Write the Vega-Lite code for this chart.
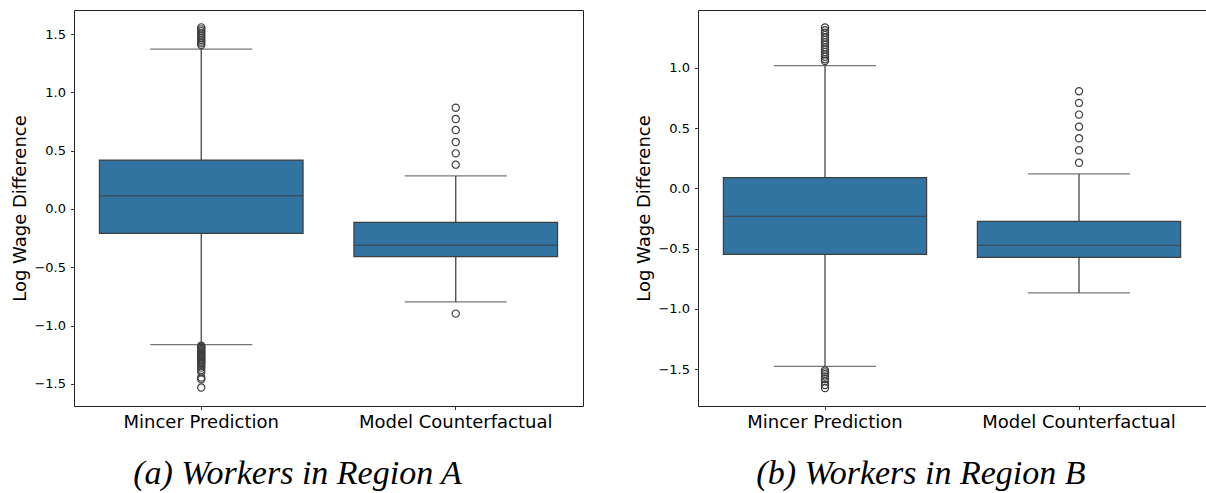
{
  "$schema": "https://vega.github.io/schema/vega-lite/v6.json",
  "padding": {"left": 11, "top": 9, "right": 0, "bottom": 0},
  "spacing": 51,
  "background": "white",
  "config": {
    "view": {"stroke": "#222222", "strokeWidth": 1},
    "axis": {
      "grid": false,
      "domain": false,
      "tickSize": 3.5,
      "tickWidth": 0.8,
      "tickColor": "#000000",
      "labelColor": "#000000",
      "titleColor": "#000000",
      "labelFont": "DejaVu Sans",
      "titleFont": "DejaVu Sans",
      "titleFontWeight": "normal",
      "labelLimit": 0
    },
    "axisY": {"labelFontSize": 13, "titleFontSize": 18, "labelPadding": 5, "titlePadding": 4},
    "axisX": {"labelFontSize": 18, "labelPadding": 3.5, "labelAngle": 0},
    "title": {"font": "Liberation Serif", "fontStyle": "italic", "fontWeight": "normal", "fontSize": 34, "color": "#000000", "orient": "bottom", "anchor": "middle", "frame": "bounds", "offset": 26}
  },
  "datasets": {
    "stats": [
      {"region": "A", "group": "Mincer Prediction", "lower": -1.163, "q1": -0.21, "median": 0.114, "q3": 0.42, "upper": 1.371},
      {"region": "A", "group": "Model Counterfactual", "lower": -0.797, "q1": -0.408, "median": -0.311, "q3": -0.114, "upper": 0.283},
      {"region": "B", "group": "Mincer Prediction", "lower": -1.475, "q1": -0.548, "median": -0.232, "q3": 0.088, "upper": 1.017},
      {"region": "B", "group": "Model Counterfactual", "lower": -0.866, "q1": -0.573, "median": -0.473, "q3": -0.274, "upper": 0.119}
    ],
    "outliers": [
      {"region": "A", "group": "Mincer Prediction", "value": 1.557},
      {"region": "A", "group": "Mincer Prediction", "value": 1.54},
      {"region": "A", "group": "Mincer Prediction", "value": 1.525},
      {"region": "A", "group": "Mincer Prediction", "value": 1.51},
      {"region": "A", "group": "Mincer Prediction", "value": 1.495},
      {"region": "A", "group": "Mincer Prediction", "value": 1.48},
      {"region": "A", "group": "Mincer Prediction", "value": 1.465},
      {"region": "A", "group": "Mincer Prediction", "value": 1.45},
      {"region": "A", "group": "Mincer Prediction", "value": 1.435},
      {"region": "A", "group": "Mincer Prediction", "value": 1.42},
      {"region": "A", "group": "Mincer Prediction", "value": 1.405},
      {"region": "A", "group": "Mincer Prediction", "value": -1.172},
      {"region": "A", "group": "Mincer Prediction", "value": -1.18},
      {"region": "A", "group": "Mincer Prediction", "value": -1.19},
      {"region": "A", "group": "Mincer Prediction", "value": -1.2},
      {"region": "A", "group": "Mincer Prediction", "value": -1.21},
      {"region": "A", "group": "Mincer Prediction", "value": -1.22},
      {"region": "A", "group": "Mincer Prediction", "value": -1.23},
      {"region": "A", "group": "Mincer Prediction", "value": -1.24},
      {"region": "A", "group": "Mincer Prediction", "value": -1.25},
      {"region": "A", "group": "Mincer Prediction", "value": -1.26},
      {"region": "A", "group": "Mincer Prediction", "value": -1.27},
      {"region": "A", "group": "Mincer Prediction", "value": -1.28},
      {"region": "A", "group": "Mincer Prediction", "value": -1.29},
      {"region": "A", "group": "Mincer Prediction", "value": -1.3},
      {"region": "A", "group": "Mincer Prediction", "value": -1.31},
      {"region": "A", "group": "Mincer Prediction", "value": -1.32},
      {"region": "A", "group": "Mincer Prediction", "value": -1.33},
      {"region": "A", "group": "Mincer Prediction", "value": -1.345},
      {"region": "A", "group": "Mincer Prediction", "value": -1.36},
      {"region": "A", "group": "Mincer Prediction", "value": -1.38},
      {"region": "A", "group": "Mincer Prediction", "value": -1.4},
      {"region": "A", "group": "Mincer Prediction", "value": -1.445},
      {"region": "A", "group": "Mincer Prediction", "value": -1.46},
      {"region": "A", "group": "Mincer Prediction", "value": -1.531},
      {"region": "A", "group": "Model Counterfactual", "value": 0.868},
      {"region": "A", "group": "Model Counterfactual", "value": 0.771},
      {"region": "A", "group": "Model Counterfactual", "value": 0.677},
      {"region": "A", "group": "Model Counterfactual", "value": 0.574},
      {"region": "A", "group": "Model Counterfactual", "value": 0.477},
      {"region": "A", "group": "Model Counterfactual", "value": 0.38},
      {"region": "A", "group": "Model Counterfactual", "value": -0.897},
      {"region": "B", "group": "Mincer Prediction", "value": 1.333},
      {"region": "B", "group": "Mincer Prediction", "value": 1.31},
      {"region": "B", "group": "Mincer Prediction", "value": 1.29},
      {"region": "B", "group": "Mincer Prediction", "value": 1.27},
      {"region": "B", "group": "Mincer Prediction", "value": 1.25},
      {"region": "B", "group": "Mincer Prediction", "value": 1.23},
      {"region": "B", "group": "Mincer Prediction", "value": 1.21},
      {"region": "B", "group": "Mincer Prediction", "value": 1.19},
      {"region": "B", "group": "Mincer Prediction", "value": 1.17},
      {"region": "B", "group": "Mincer Prediction", "value": 1.15},
      {"region": "B", "group": "Mincer Prediction", "value": 1.13},
      {"region": "B", "group": "Mincer Prediction", "value": 1.11},
      {"region": "B", "group": "Mincer Prediction", "value": 1.09},
      {"region": "B", "group": "Mincer Prediction", "value": 1.07},
      {"region": "B", "group": "Mincer Prediction", "value": 1.055},
      {"region": "B", "group": "Mincer Prediction", "value": -1.51},
      {"region": "B", "group": "Mincer Prediction", "value": -1.525},
      {"region": "B", "group": "Mincer Prediction", "value": -1.54},
      {"region": "B", "group": "Mincer Prediction", "value": -1.56},
      {"region": "B", "group": "Mincer Prediction", "value": -1.58},
      {"region": "B", "group": "Mincer Prediction", "value": -1.6},
      {"region": "B", "group": "Mincer Prediction", "value": -1.63},
      {"region": "B", "group": "Mincer Prediction", "value": -1.655},
      {"region": "B", "group": "Model Counterfactual", "value": 0.805},
      {"region": "B", "group": "Model Counterfactual", "value": 0.708},
      {"region": "B", "group": "Model Counterfactual", "value": 0.611},
      {"region": "B", "group": "Model Counterfactual", "value": 0.511},
      {"region": "B", "group": "Model Counterfactual", "value": 0.415},
      {"region": "B", "group": "Model Counterfactual", "value": 0.315},
      {"region": "B", "group": "Model Counterfactual", "value": 0.212}
    ]
  },
  "hconcat": [
    {
      "width": 509,
      "height": 396,
      "title": {"text": "(a) Workers in Region A"},
      "encoding": {
        "x": {"field": "group", "type": "nominal", "sort": ["Mincer Prediction", "Model Counterfactual"], "scale": {"paddingInner": 0, "paddingOuter": 0}, "axis": {"title": null}}
      },
      "layer": [
        {
          "data": {"name": "stats"},
          "transform": [{"filter": "datum.region === 'A'"}],
          "mark": {"type": "rule", "color": "#3f3f3f", "strokeWidth": 1.25},
          "encoding": {
            "y": {"field": "lower", "type": "quantitative", "scale": {"domain": [-1.689, 1.706], "nice": false, "zero": false}, "axis": {"title": "Log Wage Difference", "values": [-1.5, -1, -0.5, 0, 0.5, 1, 1.5], "format": ".1f"}},
            "y2": {"field": "upper"}
          }
        },
        {
          "data": {"name": "stats"},
          "transform": [{"filter": "datum.region === 'A'"}],
          "mark": {"type": "tick", "color": "#3f3f3f", "size": 102, "thickness": 1.25},
          "encoding": {"y": {"field": "lower", "type": "quantitative"}}
        },
        {
          "data": {"name": "stats"},
          "transform": [{"filter": "datum.region === 'A'"}],
          "mark": {"type": "tick", "color": "#3f3f3f", "size": 102, "thickness": 1.25},
          "encoding": {"y": {"field": "upper", "type": "quantitative"}}
        },
        {
          "data": {"name": "stats"},
          "transform": [{"filter": "datum.region === 'A'"}],
          "mark": {"type": "bar", "fill": "#3274a1", "stroke": "#3f3f3f", "strokeWidth": 1.25, "width": {"band": 0.8}},
          "encoding": {"y": {"field": "q1", "type": "quantitative"}, "y2": {"field": "q3"}}
        },
        {
          "data": {"name": "stats"},
          "transform": [{"filter": "datum.region === 'A'"}],
          "mark": {"type": "tick", "color": "#3f3f3f", "size": 204, "thickness": 1.4},
          "encoding": {"y": {"field": "median", "type": "quantitative"}}
        },
        {
          "data": {"name": "outliers"},
          "transform": [{"filter": "datum.region === 'A'"}],
          "mark": {"type": "point", "shape": "circle", "filled": false, "stroke": "#3f3f3f", "strokeWidth": 1.2, "size": 52, "opacity": 1},
          "encoding": {"y": {"field": "value", "type": "quantitative"}}
        }
      ]
    },
    {
      "width": 508,
      "height": 396,
      "title": {"text": "(b) Workers in Region B"},
      "encoding": {
        "x": {"field": "group", "type": "nominal", "sort": ["Mincer Prediction", "Model Counterfactual"], "scale": {"paddingInner": 0, "paddingOuter": 0}, "axis": {"title": null}}
      },
      "layer": [
        {
          "data": {"name": "stats"},
          "transform": [{"filter": "datum.region === 'B'"}],
          "mark": {"type": "rule", "color": "#3f3f3f", "strokeWidth": 1.25},
          "encoding": {
            "y": {"field": "lower", "type": "quantitative", "scale": {"domain": [-1.804, 1.478], "nice": false, "zero": false}, "axis": {"title": "Log Wage Difference", "values": [-1.5, -1, -0.5, 0, 0.5, 1], "format": ".1f"}},
            "y2": {"field": "upper"}
          }
        },
        {
          "data": {"name": "stats"},
          "transform": [{"filter": "datum.region === 'B'"}],
          "mark": {"type": "tick", "color": "#3f3f3f", "size": 102, "thickness": 1.25},
          "encoding": {"y": {"field": "lower", "type": "quantitative"}}
        },
        {
          "data": {"name": "stats"},
          "transform": [{"filter": "datum.region === 'B'"}],
          "mark": {"type": "tick", "color": "#3f3f3f", "size": 102, "thickness": 1.25},
          "encoding": {"y": {"field": "upper", "type": "quantitative"}}
        },
        {
          "data": {"name": "stats"},
          "transform": [{"filter": "datum.region === 'B'"}],
          "mark": {"type": "bar", "fill": "#3274a1", "stroke": "#3f3f3f", "strokeWidth": 1.25, "width": {"band": 0.8}},
          "encoding": {"y": {"field": "q1", "type": "quantitative"}, "y2": {"field": "q3"}}
        },
        {
          "data": {"name": "stats"},
          "transform": [{"filter": "datum.region === 'B'"}],
          "mark": {"type": "tick", "color": "#3f3f3f", "size": 204, "thickness": 1.4},
          "encoding": {"y": {"field": "median", "type": "quantitative"}}
        },
        {
          "data": {"name": "outliers"},
          "transform": [{"filter": "datum.region === 'B'"}],
          "mark": {"type": "point", "shape": "circle", "filled": false, "stroke": "#3f3f3f", "strokeWidth": 1.2, "size": 52, "opacity": 1},
          "encoding": {"y": {"field": "value", "type": "quantitative"}}
        }
      ]
    }
  ]
}
